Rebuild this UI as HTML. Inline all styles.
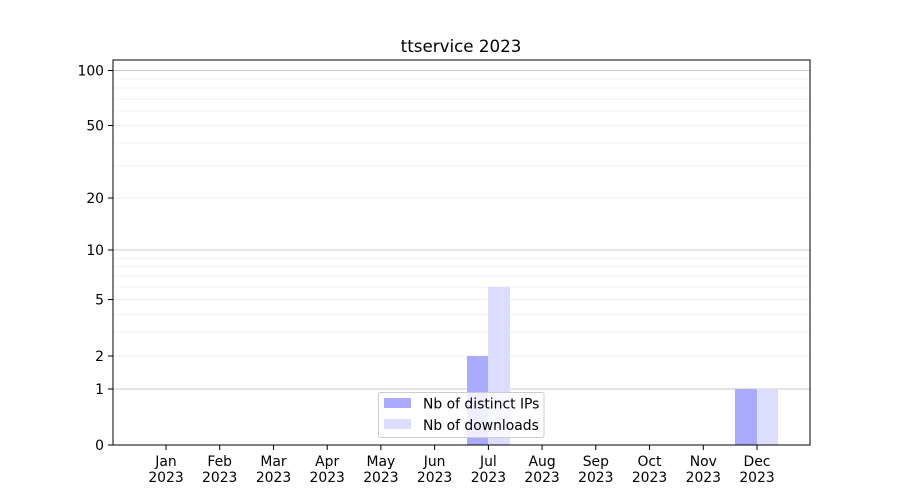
<!DOCTYPE html>
<html><head><meta charset="utf-8"><style>body{margin:0;background:#fff}svg{display:block}text{font-family:"DejaVu Sans","Liberation Sans",sans-serif;fill:#000}</style></head>
<body>
<svg width="900" height="500" viewBox="0 0 900 500" xmlns="http://www.w3.org/2000/svg">
<rect width="900" height="500" fill="#fff"/>
<g stroke="#ebebeb" stroke-width="0.8">
<line x1="113" x2="810" y1="258.5" y2="258.5"/><line x1="113" x2="810" y1="266.5" y2="266.5"/><line x1="113" x2="810" y1="276" y2="276"/><line x1="113" x2="810" y1="287" y2="287"/><line x1="113" x2="810" y1="299.5" y2="299.5"/><line x1="113" x2="810" y1="314.5" y2="314.5"/><line x1="113" x2="810" y1="332" y2="332"/><line x1="113" x2="810" y1="356" y2="356"/>
<line x1="113" x2="810" y1="198" y2="198"/><line x1="113" x2="810" y1="166" y2="166"/><line x1="113" x2="810" y1="143" y2="143"/><line x1="113" x2="810" y1="125.5" y2="125.5"/><line x1="113" x2="810" y1="111" y2="111"/><line x1="113" x2="810" y1="99" y2="99"/><line x1="113" x2="810" y1="88" y2="88"/><line x1="113" x2="810" y1="79" y2="79"/>
</g>
<g stroke="#cccccc" stroke-width="1">
<line x1="113" x2="810" y1="389" y2="389"/><line x1="113" x2="810" y1="250" y2="250"/><line x1="113" x2="810" y1="70.5" y2="70.5"/>
</g>
<rect x="467" y="356" width="21" height="89" fill="#aaaaff"/>
<rect x="488" y="287" width="22" height="158" fill="#ddddff"/>
<rect x="735" y="389" width="22" height="56" fill="#aaaaff"/>
<rect x="757" y="389" width="21" height="56" fill="#ddddff"/>
<rect x="113" y="60" width="697" height="385" fill="none" stroke="#000" stroke-width="1"/>
<g stroke="#000">
<line x1="108" x2="113" y1="445" y2="445"/><line x1="108" x2="113" y1="389" y2="389"/><line x1="108" x2="113" y1="356" y2="356"/><line x1="108" x2="113" y1="299.5" y2="299.5"/><line x1="108" x2="113" y1="250" y2="250"/><line x1="108" x2="113" y1="198" y2="198"/><line x1="108" x2="113" y1="125.5" y2="125.5"/><line x1="108" x2="113" y1="70.5" y2="70.5"/>
</g>
<g font-size="13.9" text-anchor="end">
<text x="104" y="450">0</text><text x="104" y="394">1</text><text x="104" y="361">2</text><text x="104" y="304.5">5</text><text x="104" y="255">10</text><text x="104" y="203">20</text><text x="104" y="130.5">50</text><text x="104" y="75.5">100</text>
</g>
<g stroke="#000">
<line x1="166" x2="166" y1="445" y2="450"/><line x1="219.7" x2="219.7" y1="445" y2="450"/><line x1="273.5" x2="273.5" y1="445" y2="450"/><line x1="327.2" x2="327.2" y1="445" y2="450"/><line x1="380.9" x2="380.9" y1="445" y2="450"/><line x1="434.6" x2="434.6" y1="445" y2="450"/><line x1="488.4" x2="488.4" y1="445" y2="450"/><line x1="542.1" x2="542.1" y1="445" y2="450"/><line x1="595.8" x2="595.8" y1="445" y2="450"/><line x1="649.5" x2="649.5" y1="445" y2="450"/><line x1="703.3" x2="703.3" y1="445" y2="450"/><line x1="757" x2="757" y1="445" y2="450"/>
</g>
<g font-size="13.9" text-anchor="middle">
<text x="166" y="466">Jan</text><text x="166" y="482">2023</text>
<text x="219.7" y="466">Feb</text><text x="219.7" y="482">2023</text>
<text x="273.5" y="466">Mar</text><text x="273.5" y="482">2023</text>
<text x="327.2" y="466">Apr</text><text x="327.2" y="482">2023</text>
<text x="380.9" y="466">May</text><text x="380.9" y="482">2023</text>
<text x="434.6" y="466">Jun</text><text x="434.6" y="482">2023</text>
<text x="488.4" y="466">Jul</text><text x="488.4" y="482">2023</text>
<text x="542.1" y="466">Aug</text><text x="542.1" y="482">2023</text>
<text x="595.8" y="466">Sep</text><text x="595.8" y="482">2023</text>
<text x="649.5" y="466">Oct</text><text x="649.5" y="482">2023</text>
<text x="703.3" y="466">Nov</text><text x="703.3" y="482">2023</text>
<text x="757" y="466">Dec</text><text x="757" y="482">2023</text>
</g>
<text x="461" y="52" font-size="16.7" text-anchor="middle">ttservice 2023</text>
<rect x="378.5" y="392.5" width="165.5" height="45" rx="2" fill="#fff" fill-opacity="0.8" stroke="#cccccc"/>
<rect x="384" y="398" width="27" height="10" fill="#aaaaff"/>
<rect x="384" y="419" width="27" height="10" fill="#ddddff"/>
<text x="423" y="408.5" font-size="13.9">Nb of distinct IPs</text>
<text x="423" y="430" font-size="13.9">Nb of downloads</text>
</svg>
</body></html>
